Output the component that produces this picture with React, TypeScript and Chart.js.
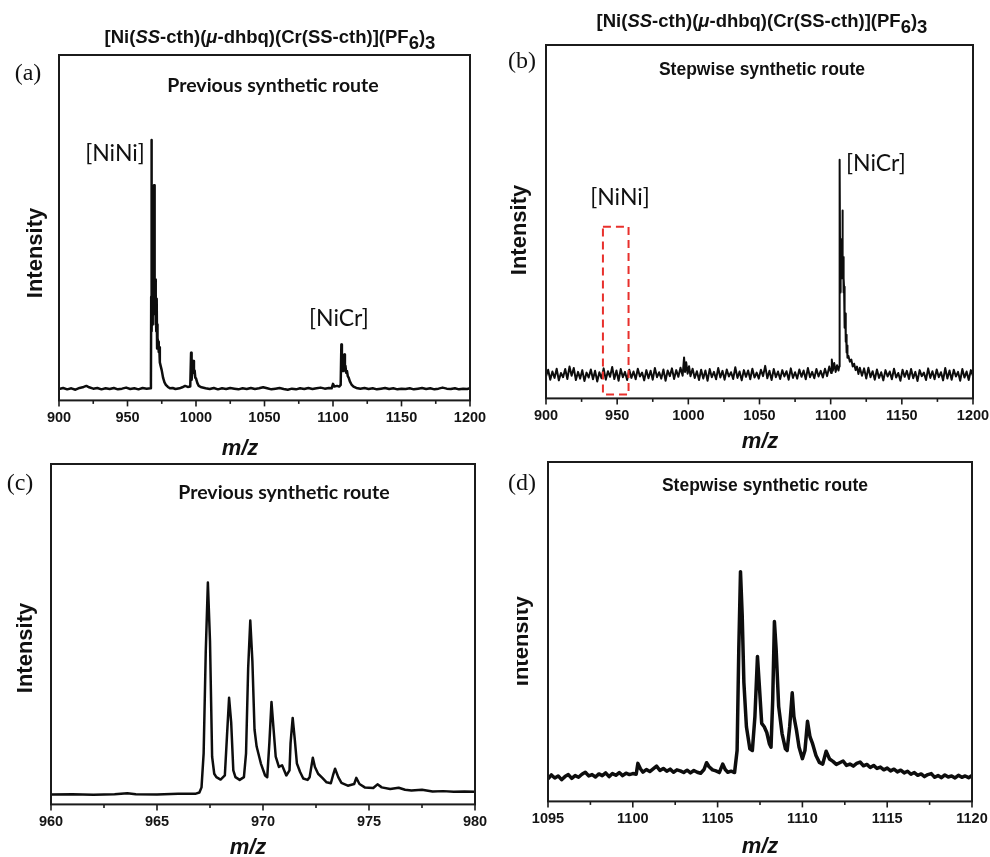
import React, { useEffect, useRef } from 'react';
import { Chart, registerables } from 'chart.js';
Chart.register(...registerables);

// ---------- Panel (a): full range, previous route ----------
const MZ_A = [900, 903, 906, 909, 912, 915, 918, 920, 922, 925, 928, 931, 934, 937, 940, 943, 946, 949, 952, 955, 958, 961, 964, 966.8,
  967.1, 967.3, 967.4, 967.6, 967.8, 968.0, 968.2, 968.4, 968.6, 968.8, 969.0, 969.2, 969.4, 969.6, 969.8, 970.0, 970.2, 970.4, 970.6, 970.8, 971.0, 971.2, 971.4, 971.6, 971.8, 972.0, 972.4, 972.8, 973.2, 973.6, 974.2, 975, 976, 977, 978, 979.5, 981,
  983, 985, 988, 990, 992, 994, 995.8, 996.4, 996.8, 997.4, 998, 998.5, 999, 999.5, 1000, 1001, 1002, 1004, 1007, 1010, 1013, 1016, 1019, 1022, 1025, 1028, 1031, 1034, 1037, 1040, 1043, 1046, 1049, 1052, 1055, 1058, 1061, 1064, 1067, 1070, 1073, 1076, 1079, 1082, 1085, 1088, 1091, 1094, 1097, 1099,
  1100, 1101, 1103, 1104.5, 1105.6, 1106.1, 1106.5, 1106.9, 1107.3, 1107.7, 1108.3, 1108.7, 1109.1, 1109.6, 1110.2, 1110.8, 1111.5, 1112.3, 1113.5, 1115, 1117, 1120, 1123, 1126, 1129, 1132, 1135, 1138, 1141, 1144, 1147, 1150, 1153, 1156, 1159, 1162, 1165, 1168, 1171, 1174, 1177, 1180, 1183, 1186, 1189, 1192, 1195, 1198, 1200];
const INT_A = [3.3, 3.6, 3.2, 3.5, 3.1, 3.6, 3.9, 4.2, 3.8, 3.4, 3.6, 3.2, 3.5, 3.3, 3.6, 3.2, 3.4, 3.7, 3.3, 3.5, 3.2, 3.6, 3.4, 3.5,
  5, 30, 75.4, 32, 20, 34, 22, 36, 24, 35, 26, 36, 62.3, 28, 35, 25, 34, 35, 22, 30, 20, 28, 29.4, 15, 22, 18, 17, 14, 15.4, 11, 10, 8.7, 6.5, 5.2, 4.5, 3.9, 3.5,
  3.6, 3.3, 3.5, 3.8, 4.2, 3.9, 4.0, 13.8, 6, 9, 11.4, 8, 8.7, 6.5, 6.4, 5, 4.2, 3.8, 3.5, 3.3, 3.6, 3.2, 3.5, 3.3, 3.6, 3.4, 3.2, 3.5, 3.3, 3.6, 3.3, 3.5, 3.8, 3.5, 3.2, 3.4, 3.6, 3.3, 3.1, 3.4, 3.2, 3.5, 3.3, 3.6, 3.3, 3.5, 3.7, 3.4, 3.6, 3.5,
  4.8, 4.0, 4.2, 4.0, 4.5, 16.2, 9, 11, 8.5, 10.5, 13.3, 9, 10, 8, 8.5, 7, 6.5, 5.5, 4.6, 4.0, 3.6, 3.4, 3.6, 3.3, 3.5, 3.2, 3.4, 3.6, 3.3, 3.5, 3.2, 3.4, 3.3, 3.5, 3.2, 3.4, 3.6, 3.3, 3.5, 3.2, 3.4, 3.7, 3.4, 3.3, 3.5, 3.2, 3.4, 3.3, 3.5];

// ---------- Panel (b): full range, stepwise route ----------
const MZ_B = [900, 901.5, 903, 904.5, 906, 907.5, 909, 910.5, 912, 913.5, 915, 916.5, 918, 919.5, 921, 922.5, 924, 925.5, 927, 928.5, 930, 931.5, 933, 934.5, 936, 937.5, 939, 940.5, 942, 943.5, 945, 946.5, 948, 949.5, 951, 952.5, 954, 955.5, 957, 958.5, 960, 961.5, 963, 964.5, 966, 967.5, 969, 970.5, 972, 973.5, 975, 976.5, 978, 979.5, 981, 982.5, 984, 985.5, 987, 988.5, 990, 991.5, 993, 994.5, 996,
  997, 997.7, 998.5, 999.5, 1000.5, 1001.5, 1003, 1004.5, 1006, 1007.5, 1009, 1010.5, 1012, 1013.5, 1015, 1016.5, 1018, 1019.5, 1021, 1022.5, 1024, 1025.5, 1027, 1028.5, 1030, 1031.5, 1033, 1034.5, 1036, 1037.5, 1039, 1040.5, 1042, 1043.5, 1045, 1046.5, 1048, 1049.5, 1051, 1052.5, 1054, 1055.5, 1057, 1058.5, 1060, 1061.5, 1063, 1064.5, 1066, 1067.5, 1069, 1070.5, 1072, 1073.5, 1075, 1076.5, 1078, 1079.5, 1081, 1082.5, 1084, 1085.5, 1087, 1088.5, 1090, 1091.5, 1093, 1094.5, 1096, 1097.5, 1099,
  1100.3, 1100.8, 1101.5, 1102.5, 1103.5, 1104.5, 1105.5, 1106.0, 1106.2, 1106.4, 1106.6, 1106.8, 1107.0, 1107.2, 1107.4, 1107.6, 1107.8, 1108.0, 1108.2, 1108.4, 1108.6, 1108.8, 1109.0, 1109.2, 1109.4, 1109.6, 1109.8, 1110.0, 1110.3, 1110.6, 1110.9, 1111.2, 1111.5, 1111.8, 1112.5, 1113.5, 1114.5, 1115.5, 1116.5, 1117.5, 1118.5, 1119.5, 1120.5,
  1122, 1123.5, 1125, 1126.5, 1128, 1129.5, 1131, 1132.5, 1134, 1135.5, 1137, 1138.5, 1140, 1141.5, 1143, 1144.5, 1146, 1147.5, 1149, 1150.5, 1152, 1153.5, 1155, 1156.5, 1158, 1159.5, 1161, 1162.5, 1164, 1165.5, 1167, 1168.5, 1170, 1171.5, 1173, 1174.5, 1176, 1177.5, 1179, 1180.5, 1182, 1183.5, 1185, 1186.5, 1188, 1189.5, 1191, 1192.5, 1194, 1195.5, 1197, 1198.5, 1200];
const INT_B = [6.2, 8.1, 5.3, 7.6, 5.8, 8.4, 5.1, 7.2, 6.0, 8.3, 5.5, 9.0, 6.4, 8.6, 5.2, 7.5, 5.6, 8.0, 4.9, 7.3, 5.9, 8.2, 5.4, 7.8, 4.8, 7.4, 5.7, 8.5, 5.3, 7.7, 6.1, 8.9, 5.5, 7.9, 5.0, 8.3, 6.0, 7.5, 5.2, 8.1, 5.8, 7.6, 5.4, 8.4, 6.2, 7.3, 5.1, 8.0, 5.7, 7.8, 5.3, 8.6, 6.0, 7.4, 5.6, 8.2, 5.0, 7.9, 6.3, 8.5, 5.5, 8.0, 6.1, 8.7, 6.4,
  11.6, 7.5, 10.2, 7.0, 9.1, 6.3, 8.4, 5.8, 7.7, 5.2, 8.1, 5.6, 7.9, 5.0, 8.3, 6.0, 7.5, 5.4, 8.6, 5.9, 7.8, 5.3, 8.2, 6.2, 7.4, 5.5, 8.8, 5.8, 7.6, 5.1, 8.0, 6.1, 7.9, 5.4, 8.4, 5.9, 7.3, 5.6, 8.1, 6.3, 9.2, 5.7, 7.8, 5.2, 8.3, 6.0, 7.6, 5.5, 8.0, 6.2, 7.7, 5.3, 8.5, 5.8, 7.4, 5.6, 8.2, 6.1, 7.9, 5.4, 8.6, 6.0, 7.5, 5.7, 8.3, 6.2, 7.8, 5.9, 8.4, 6.3, 9.0,
  7.2, 11.0, 7.8, 10.0, 7.5, 9.4, 7.9, 9.0, 40, 67.5, 41, 30, 42, 33, 45, 36, 42, 34, 43, 53.2, 36, 40, 30, 34, 31.6, 24, 28, 20, 24, 16, 18, 13, 15, 11.5, 12.0, 10.4, 11.0, 9.0, 9.8, 8.0, 9.0, 6.9, 8.7,
  6.4, 8.5, 5.6, 8.7, 6.0, 7.7, 5.3, 8.2, 5.8, 7.4, 5.1, 8.0, 6.2, 7.6, 5.4, 8.4, 5.9, 7.2, 5.0, 8.1, 6.1, 7.8, 5.5, 8.3, 5.7, 7.5, 4.9, 8.0, 6.3, 7.3, 5.2, 8.5, 5.8, 7.7, 5.4, 8.2, 6.0, 7.4, 5.1, 8.6, 5.6, 7.9, 5.3, 8.1, 6.2, 7.5, 5.0, 8.3, 5.9, 7.6, 5.2, 8.0, 6.4];
// dashed box marking the absent [NiNi] signal: [mz from, mz to, intensity from, intensity to]
const NINI_BOX_B = [940, 958, 1.1, 48.6];

// ---------- Panel (c): zoom of [NiNi], previous route ----------
const MZ_C = [960, 961, 962, 963, 963.6, 964, 965, 966, 966.8, 967.0, 967.1, 967.2, 967.3, 967.4, 967.5, 967.6, 967.7, 967.8, 968.0, 968.2, 968.3, 968.4, 968.5, 968.6, 968.7, 968.9, 969.1, 969.2, 969.3, 969.4, 969.5, 969.6, 969.7, 969.9, 970.1, 970.2, 970.3, 970.4, 970.5, 970.6, 970.75, 970.9, 971.1, 971.25, 971.3, 971.4, 971.5, 971.6, 971.75, 971.9, 972.1, 972.2, 972.35, 972.45, 972.6, 972.8, 973.0, 973.2, 973.3, 973.4, 973.55, 973.7, 974.0, 974.3, 974.4, 974.55, 974.8, 975.2, 975.4, 975.6, 976.0, 976.4, 976.7, 977.0, 977.5, 978.0, 978.5, 979.0, 979.5, 980];
const INT_C = [2.9, 3.0, 2.8, 3.0, 3.3, 3.0, 2.9, 3.1, 3.1, 3.5, 5, 15, 45, 65.2, 48, 14, 9, 8, 7.3, 8.5, 20, 31.3, 24, 10, 8, 7.2, 8.0, 15, 40, 54.0, 42, 22, 17, 12, 8.5, 8.0, 18, 30.1, 22, 14, 11, 11.5, 8.5, 10, 18, 25.4, 19, 12, 9.5, 7.6, 7.2, 8, 13.7, 11, 9, 7.8, 6.5, 6.2, 8.5, 10.5, 8, 6.3, 5.5, 6, 7.8, 6, 5.0, 4.8, 5.9, 5.0, 4.5, 4.9, 4.3, 4.1, 4.3, 3.8, 3.9, 3.7, 3.8, 3.7];

// ---------- Panel (d): zoom of [NiCr], stepwise route ----------
const MZ_D = [1095.0, 1095.2, 1095.4, 1095.6, 1095.8, 1096.0, 1096.2, 1096.4, 1096.6, 1096.8, 1097.0, 1097.2, 1097.4, 1097.6, 1097.8, 1098.0, 1098.2, 1098.4, 1098.6, 1098.8, 1099.0, 1099.2, 1099.4, 1099.6, 1099.8, 1100.0, 1100.2, 1100.3, 1100.45, 1100.6, 1100.8, 1101.0, 1101.2, 1101.4, 1101.6, 1101.8, 1102.0, 1102.2, 1102.4, 1102.6, 1102.8, 1103.0, 1103.2, 1103.4, 1103.6, 1103.8, 1104.0, 1104.2, 1104.35, 1104.5, 1104.7, 1104.9, 1105.1, 1105.3, 1105.45, 1105.6, 1105.8, 1106.0,
  1106.15, 1106.25, 1106.35, 1106.45, 1106.55, 1106.7, 1106.9, 1107.05, 1107.2, 1107.35, 1107.45, 1107.6, 1107.75, 1107.9, 1108.05, 1108.15, 1108.25, 1108.35, 1108.45, 1108.6, 1108.8, 1109.0, 1109.1, 1109.25, 1109.4, 1109.5, 1109.65, 1109.8, 1110.0, 1110.15, 1110.3, 1110.45, 1110.6, 1110.8, 1111.0, 1111.2, 1111.4,
  1111.6, 1111.8, 1112.0, 1112.2, 1112.4, 1112.6, 1112.8, 1113.0, 1113.2, 1113.4, 1113.6, 1113.8, 1114.0, 1114.2, 1114.4, 1114.6, 1114.8, 1115.0, 1115.2, 1115.4, 1115.6, 1115.8, 1116.0, 1116.2, 1116.4, 1116.6, 1116.8, 1117.0, 1117.2, 1117.4, 1117.6, 1117.8, 1118.0, 1118.2, 1118.4, 1118.6, 1118.8, 1119.0, 1119.2, 1119.4, 1119.6, 1119.8, 1120];
const INT_D = [6.6, 7.8, 6.9, 7.5, 6.4, 7.3, 7.9, 6.8, 7.6, 7.1, 8.0, 8.6, 7.5, 7.9, 7.2, 8.1, 7.6, 8.4, 7.3, 8.2, 7.7, 8.5, 7.6, 8.3, 7.9, 8.2, 8.0, 11.2, 9.6, 8.6, 9.4, 8.8, 9.6, 10.4, 9.1, 9.7, 8.9, 9.5, 8.6, 9.3, 9.0, 8.5, 9.2, 8.4, 9.1, 8.6, 8.3, 9.4, 11.4, 10.2, 9.3, 9.0, 8.5, 11.0, 9.4, 8.6, 8.9, 8.5,
  15, 45, 67.7, 55, 35, 22, 15.5, 15, 25, 42.7, 35, 23, 22, 20.3, 17, 16, 30, 53, 45, 28, 20, 15.5, 15, 22, 32.0, 25, 21, 16, 12.6, 15, 23.6, 19, 17, 13.5, 11.5, 11, 14.8,
  12.5, 11.8, 10.9, 11.4, 11.9, 10.6, 11.0, 10.4, 11.2, 11.6, 10.5, 10.9, 10.0, 10.6, 9.7, 10.1, 9.3, 9.8, 9.0, 9.5, 8.7, 9.2, 8.4, 8.9, 8.0, 8.5, 7.7, 8.1, 7.3, 7.9, 8.2, 7.1, 7.6, 7.0, 7.8, 7.2, 7.5, 6.9, 7.7, 7.1, 7.5, 7.0, 7.6];

const SANS = '"Liberation Sans", Arial, sans-serif';
const SERIF = '"Liberation Serif", "Times New Roman", serif';
const CALI = 'Lato, "Open Sans", sans-serif';

const framePlugin = {
  id: 'frame',
  afterDatasetsDraw(chart: any, _args: any, opts: any) {
    const { ctx, chartArea: a } = chart;
    const xs = chart.scales.x;
    const ys = chart.scales.y;
    ctx.save();
    ctx.strokeStyle = '#1b1b1b';
    ctx.lineWidth = 2;
    ctx.strokeRect(a.left, a.top, a.right - a.left, a.bottom - a.top);
    ctx.lineWidth = 1.6;
    for (const t of xs.ticks) {
      const px = xs.getPixelForValue(t.value);
      const q = t.value / opts.major;
      const isMajor = Math.abs(q - Math.round(q)) < 1e-6;
      ctx.beginPath();
      ctx.moveTo(px, a.bottom);
      ctx.lineTo(px, a.bottom + (isMajor ? 6 : 3.5));
      ctx.stroke();
    }
    if (opts.box) {
      const [x0, x1, y0, y1] = opts.box;
      const L = xs.getPixelForValue(x0);
      const R = xs.getPixelForValue(x1);
      const T = ys.getPixelForValue(y1);
      const B = ys.getPixelForValue(y0);
      ctx.setLineDash([8, 5]);
      ctx.strokeStyle = '#e8302c';
      ctx.lineWidth = 2;
      ctx.strokeRect(L, T, R - L, B - T);
    }
    ctx.restore();
  },
};

type Rect = { l: number; t: number; r: number; b: number };

function Panel(props: { rect: Rect; mz: number[]; inten: number[]; xMin: number; xMax: number; step: number; major: number; lw: number; box?: number[] }) {
  const ref = useRef<HTMLCanvasElement>(null);
  const { rect, mz, inten, xMin, xMax, step, major, lw, box } = props;
  const w = rect.r - rect.l + 60;
  const h = rect.b - rect.t + 42;
  useEffect(() => {
    const isMajor = (v: number) => {
      const q = v / major;
      return Math.abs(q - Math.round(q)) < 1e-6;
    };
    const chart = new Chart(ref.current as HTMLCanvasElement, {
      type: 'line',
      data: {
        datasets: [
          {
            data: mz.map((m, i) => ({ x: m, y: inten[i] })),
            borderColor: '#0d0d0d',
            borderWidth: lw,
            pointRadius: 0,
            tension: 0,
            borderJoinStyle: 'round',
            fill: false,
          } as any,
        ],
      },
      options: {
        animation: false,
        responsive: false,
        events: [],
        layout: { padding: { left: 30, right: 30, top: 10, bottom: 3.2 } },
        plugins: { legend: { display: false }, tooltip: { enabled: false }, frame: { major, box } } as any,
        scales: {
          x: {
            type: 'linear',
            min: xMin,
            max: xMax,
            border: { display: false },
            grid: { display: true, drawOnChartArea: false, drawTicks: true, tickLength: 6, color: 'rgba(0,0,0,0)' },
            ticks: {
              stepSize: step,
              autoSkip: false,
              maxRotation: 0,
              padding: 3,
              color: '#141414',
              font: { family: SANS, size: 14.5, weight: 'bold' },
              callback: (v: any) => (isMajor(Number(v)) ? String(Math.round(Number(v))) : ''),
            },
          },
          y: { type: 'linear', min: 0, max: 100, display: false },
        },
      },
      plugins: [framePlugin as any],
    });
    return () => chart.destroy();
  }, []);
  return (
    <canvas
      ref={ref}
      width={w}
      height={h}
      style={{ position: 'absolute', left: rect.l - 30, top: rect.t - 10, width: w, height: h }}
    />
  );
}

function Txt(props: { x: number; y: number; style?: React.CSSProperties; rot?: boolean; children: React.ReactNode }) {
  const { x, y, style, rot, children } = props;
  return (
    <div
      style={{
        position: 'absolute',
        left: x,
        top: y,
        transform: rot ? 'translate(-50%,-50%) rotate(-90deg)' : 'translate(-50%,-50%)',
        whiteSpace: 'nowrap',
        lineHeight: 1,
        color: '#111',
        ...style,
      }}
    >
      {children}
    </div>
  );
}

const titleStyle: React.CSSProperties = { fontFamily: SANS, fontWeight: 'bold', fontSize: 18.5 };
const subStyle: React.CSSProperties = { position: 'relative', top: '0.3em' };
const routeCali: React.CSSProperties = { fontFamily: CALI, fontWeight: 'bold', fontSize: 19.5 };
const routeArial: React.CSSProperties = { fontFamily: SANS, fontWeight: 'bold', fontSize: 17.5 };
const tagStyle: React.CSSProperties = { fontFamily: CALI, fontSize: 23 };
const letterStyle: React.CSSProperties = { fontFamily: SERIF, fontSize: 24 };
const yLab: React.CSSProperties = { fontFamily: SANS, fontWeight: 'bold', fontSize: 22 };
const xLab: React.CSSProperties = { fontFamily: SANS, fontWeight: 'bold', fontStyle: 'italic', fontSize: 22 };

function Title() {
  return (
    <>
      [Ni(<i>SS</i>-cth)(<i>μ</i>-dhbq)(Cr(SS-cth)](PF<span style={subStyle}>6</span>)<span style={subStyle}>3</span>
    </>
  );
}

export default function App() {
  return (
    <div style={{ position: 'absolute', left: 0, top: 0, width: 990, height: 857, background: '#fff', overflow: 'hidden' }}>
      <Panel rect={{ l: 59, t: 55, r: 470, b: 401 }} mz={MZ_A} inten={INT_A} xMin={900} xMax={1200} step={25} major={50} lw={2.5} />
      <Panel rect={{ l: 546, t: 45, r: 973, b: 399 }} mz={MZ_B} inten={INT_B} xMin={900} xMax={1200} step={25} major={50} lw={2} box={NINI_BOX_B} />
      <Panel rect={{ l: 51, t: 464, r: 475, b: 805 }} mz={MZ_C} inten={INT_C} xMin={960} xMax={980} step={2.5} major={5} lw={2.5} />
      <Panel rect={{ l: 548, t: 462, r: 972, b: 802 }} mz={MZ_D} inten={INT_D} xMin={1095} xMax={1120} step={2.5} major={5} lw={3.5} />

      <Txt x={270} y={37} style={titleStyle}><Title /></Txt>
      <Txt x={762} y={21} style={titleStyle}><Title /></Txt>

      <Txt x={28} y={72} style={letterStyle}>(a)</Txt>
      <Txt x={522} y={60} style={letterStyle}>(b)</Txt>
      <Txt x={20} y={482} style={letterStyle}>(c)</Txt>
      <Txt x={522} y={482} style={letterStyle}>(d)</Txt>

      <Txt x={273} y={85} style={routeCali}>Previous synthetic route</Txt>
      <Txt x={762} y={70} style={routeArial}>Stepwise synthetic route</Txt>
      <Txt x={284} y={492} style={routeCali}>Previous synthetic route</Txt>
      <Txt x={765} y={486} style={routeArial}>Stepwise synthetic route</Txt>

      <Txt x={115} y={152} style={tagStyle}>[NiNi]</Txt>
      <Txt x={339} y={317} style={tagStyle}>[NiCr]</Txt>
      <Txt x={620} y={196} style={tagStyle}>[NiNi]</Txt>
      <Txt x={876} y={162} style={tagStyle}>[NiCr]</Txt>

      <Txt x={35} y={253} rot style={yLab}>Intensity</Txt>
      <Txt x={519} y={230} rot style={yLab}>Intensity</Txt>
      <Txt x={25} y={648} rot style={yLab}>Intensity</Txt>
      <div style={{ position: 'absolute', left: 517, top: 560, width: 30, height: 170, overflow: 'hidden' }}>
        <Txt x={4} y={81} rot style={yLab}>Intensity</Txt>
      </div>

      <Txt x={240} y={448} style={xLab}>m/z</Txt>
      <Txt x={760} y={441} style={xLab}>m/z</Txt>
      <Txt x={248} y={847} style={xLab}>m/z</Txt>
      <Txt x={760} y={846} style={xLab}>m/z</Txt>
    </div>
  );
}
